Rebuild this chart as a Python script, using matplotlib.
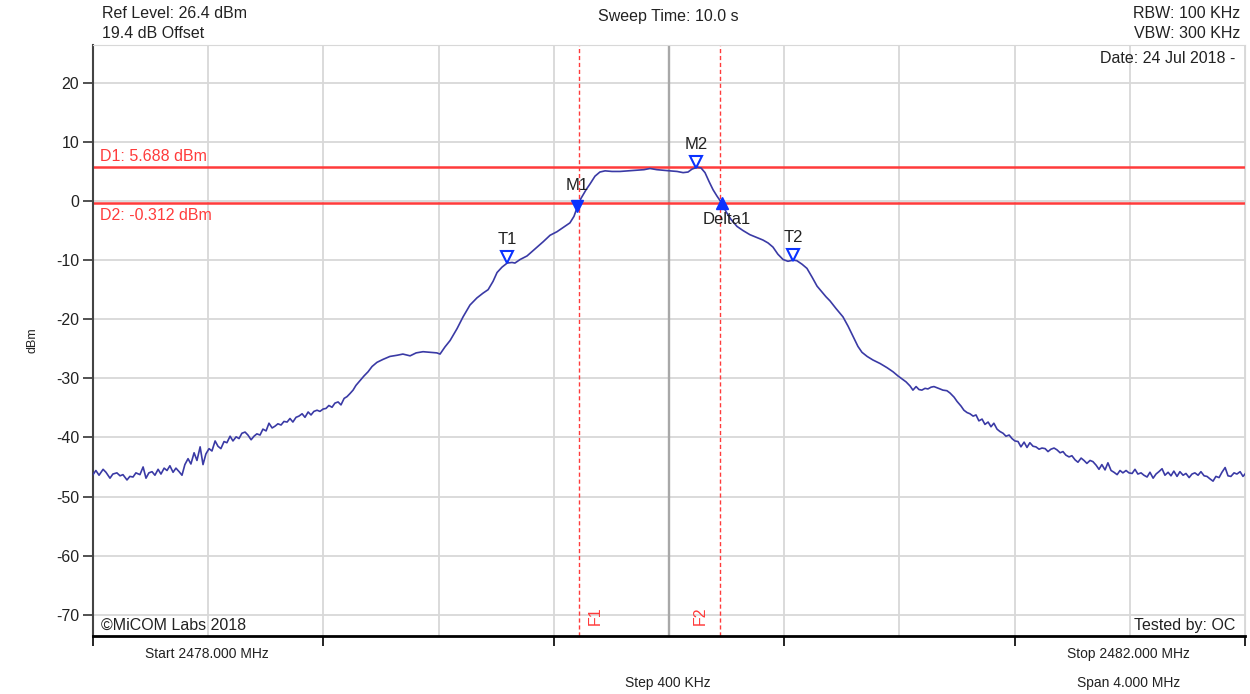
import numpy as np
import matplotlib.pyplot as plt

plt.rcParams['font.family'] = ['Liberation Sans', 'DejaVu Sans']
plt.rcParams['axes.unicode_minus'] = False

# trace: frequency (MHz) and level (dBm)
freq_left = [2478.000, 2478.010, 2478.021, 2478.035, 2478.045, 2478.059, 2478.069, 2478.083,
             2478.094, 2478.104, 2478.118, 2478.128, 2478.139, 2478.149, 2478.163, 2478.174,
             2478.184, 2478.194, 2478.205, 2478.215, 2478.226, 2478.236, 2478.247, 2478.257,
             2478.267, 2478.278, 2478.288, 2478.299, 2478.309, 2478.319, 2478.330, 2478.340,
             2478.351, 2478.361, 2478.372, 2478.382, 2478.392, 2478.403, 2478.413, 2478.424,
             2478.434, 2478.444, 2478.455, 2478.465, 2478.476, 2478.486, 2478.497, 2478.507,
             2478.517, 2478.528, 2478.538, 2478.549, 2478.559, 2478.569, 2478.580, 2478.590,
             2478.601, 2478.611, 2478.622, 2478.632, 2478.642, 2478.653, 2478.663, 2478.674,
             2478.684, 2478.694, 2478.705, 2478.715, 2478.726, 2478.736, 2478.747, 2478.757,
             2478.767, 2478.778, 2478.788, 2478.799, 2478.809, 2478.819, 2478.830, 2478.840,
             2478.851, 2478.861, 2478.872, 2478.882, 2478.892, 2478.903, 2478.913, 2478.927,
             2478.941, 2478.955, 2478.969, 2478.986, 2479.007, 2479.031, 2479.056, 2479.076,
             2479.101, 2479.122, 2479.146, 2479.170, 2479.194, 2479.205]
level_left = [-46.3, -45.6, -46.4, -45.4, -45.9, -46.9, -46.2, -46.0,
              -46.5, -46.3, -47.2, -46.6, -46.7, -46.0, -46.3, -45.0,
              -46.9, -46.0, -45.8, -46.4, -45.4, -46.2, -45.2, -45.6,
              -44.8, -45.9, -45.2, -45.8, -46.4, -44.6, -43.6, -44.5,
              -42.6, -43.9, -41.6, -44.6, -42.8, -41.9, -42.3, -40.6,
              -41.5, -41.9, -40.7, -40.9, -39.8, -40.6, -39.9, -40.2,
              -39.3, -39.1, -39.6, -40.4, -39.8, -39.4, -39.6, -38.6,
              -38.9, -37.6, -38.4, -38.1, -37.7, -37.9, -37.3, -37.4,
              -36.8, -37.4, -36.6, -36.4, -36.0, -36.6, -35.7, -36.2,
              -35.6, -35.4, -35.6, -35.2, -35.1, -34.6, -34.9, -34.2,
              -34.0, -34.5, -33.4, -33.1, -32.6, -32.0, -31.2, -30.4,
              -29.6, -28.9, -28.0, -27.3, -26.8, -26.3, -26.1, -25.9,
              -26.2, -25.7, -25.5, -25.6, -25.7, -25.9]

freq_mid = [2479.222, 2479.240, 2479.264, 2479.285, 2479.309, 2479.333, 2479.354, 2479.372,
            2479.389, 2479.403, 2479.420, 2479.438, 2479.455, 2479.465, 2479.483, 2479.507,
            2479.535, 2479.563, 2479.587, 2479.611, 2479.635, 2479.656, 2479.670, 2479.681,
            2479.694, 2479.712, 2479.726, 2479.743, 2479.760, 2479.778, 2479.802, 2479.830,
            2479.858, 2479.889, 2479.913, 2479.934, 2479.958, 2479.979, 2480.003, 2480.028,
            2480.049, 2480.066, 2480.080, 2480.097, 2480.111, 2480.125, 2480.139, 2480.153,
            2480.167, 2480.184, 2480.198, 2480.215, 2480.236, 2480.257, 2480.281, 2480.306,
            2480.326, 2480.344, 2480.361, 2480.378, 2480.396, 2480.413, 2480.431, 2480.444,
            2480.462, 2480.479, 2480.497, 2480.514, 2480.531, 2480.545, 2480.559, 2480.580,
            2480.604, 2480.622, 2480.639, 2480.656, 2480.670, 2480.688, 2480.708, 2480.733,
            2480.757, 2480.778, 2480.795, 2480.809, 2480.823, 2480.837]
level_mid = [-24.7, -23.6, -21.6, -19.6, -17.6, -16.4, -15.6, -15.0,
             -13.6, -12.1, -11.2, -10.5, -10.4, -10.5, -9.9, -9.3,
             -8.1, -6.9, -5.8, -5.2, -4.4, -3.7, -2.6, -1.1,
             0.4, 1.9, 2.9, 4.2, 4.9, 5.1, 5.0, 5.0,
             5.1, 5.2, 5.3, 5.5, 5.3, 5.2, 5.1, 5.0,
             4.8, 4.9, 5.4, 5.7, 5.6, 4.8, 3.3, 1.9,
             0.8, -0.4, -1.8, -3.1, -4.3, -5.0, -5.7, -6.2,
             -6.6, -7.1, -7.8, -9.0, -9.9, -10.2, -10.0, -10.1,
             -10.7, -11.4, -12.9, -14.4, -15.4, -16.2, -16.9, -18.2,
             -19.6, -21.2, -22.9, -24.6, -25.6, -26.3, -26.9, -27.5,
             -28.2, -28.9, -29.6, -30.1, -30.6, -31.3]

freq_right = [2480.847, 2480.858, 2480.868, 2480.878, 2480.889, 2480.899, 2480.910, 2480.920,
              2480.931, 2480.941, 2480.951, 2480.965, 2480.976, 2480.990, 2481.000, 2481.014,
              2481.024, 2481.035, 2481.045, 2481.056, 2481.066, 2481.076, 2481.087, 2481.097,
              2481.108, 2481.118, 2481.128, 2481.139, 2481.149, 2481.160, 2481.170, 2481.181,
              2481.191, 2481.201, 2481.212, 2481.222, 2481.233, 2481.243, 2481.253, 2481.264,
              2481.274, 2481.285, 2481.295, 2481.306, 2481.316, 2481.326, 2481.337, 2481.347,
              2481.358, 2481.368, 2481.378, 2481.389, 2481.399, 2481.410, 2481.420, 2481.431,
              2481.441, 2481.451, 2481.462, 2481.472, 2481.483, 2481.493, 2481.503, 2481.514,
              2481.524, 2481.535, 2481.545, 2481.556, 2481.566, 2481.576, 2481.587, 2481.597,
              2481.608, 2481.618, 2481.628, 2481.639, 2481.649, 2481.660, 2481.670, 2481.681,
              2481.691, 2481.701, 2481.712, 2481.722, 2481.733, 2481.743, 2481.753, 2481.764,
              2481.774, 2481.785, 2481.795, 2481.806, 2481.816, 2481.826, 2481.837, 2481.847,
              2481.858, 2481.868, 2481.878, 2481.889, 2481.899, 2481.910, 2481.920, 2481.931,
              2481.941, 2481.951, 2481.962, 2481.972, 2481.983, 2481.993, 2482.000]
level_right = [-32.0, -31.4, -31.9, -32.0, -31.7, -31.8, -31.5, -31.4,
               -31.6, -31.8, -32.0, -32.1, -32.5, -33.2, -33.9, -34.7,
               -35.4, -35.8, -36.0, -36.4, -36.2, -37.2, -36.9, -37.8,
               -37.4, -38.2, -37.6, -38.6, -39.0, -39.3, -39.8, -39.6,
               -40.2, -40.6, -40.7, -41.6, -40.8, -41.7, -40.9, -41.5,
               -41.6, -42.0, -41.8, -41.9, -42.4, -42.0, -41.8, -42.1,
               -42.6, -42.4, -43.0, -43.3, -43.1, -43.8, -44.2, -43.5,
               -43.9, -44.4, -43.9, -44.1, -44.7, -45.4, -44.6, -45.5,
               -44.3, -45.6, -45.9, -46.3, -45.6, -46.0, -45.6, -46.0,
               -46.1, -45.4, -46.2, -46.0, -46.4, -46.7, -45.9, -46.9,
               -46.2, -45.8, -45.3, -46.4, -45.9, -46.5, -45.7, -46.6,
               -45.8, -46.4, -46.1, -46.8, -46.2, -46.0, -46.4, -45.8,
               -46.5, -46.6, -47.0, -47.4, -46.6, -46.8, -45.9, -45.1,
               -46.5, -46.6, -46.0, -46.2, -45.8, -46.6, -46.2]

freq = freq_left + freq_mid + freq_right
level = level_left + level_mid + level_right

# markers
m1 = (2479.681, -0.9)
m2 = (2480.094, 5.7)
delta1 = (2480.184, -0.3)
t1 = (2479.438, -10.3)
t2 = (2480.431, -10.1)

d1_level = 5.688
d2_level = -0.312
f1 = 2479.6875
f2 = 2480.177

start_mhz = 2478.0
stop_mhz = 2482.0
ref_level = 26.4

fig = plt.figure(figsize=(12.5, 6.94), dpi=100)
ax = fig.add_axes([0.0744, 0.0836, 0.9216, 0.8516])

ax.set_xlim(start_mhz, stop_mhz)
ax.set_ylim(ref_level - 100, ref_level)

grid_col = '#d8d8d8'
ax.set_xticks(np.arange(start_mhz, stop_mhz + 0.01, 0.8))
ax.set_xticks(np.arange(start_mhz, stop_mhz + 0.01, 0.4), minor=True)
ax.set_yticks(np.arange(-70, 21, 10))
ax.set_xticklabels([])
ax.grid(True, which='both', axis='x', color=grid_col, lw=1.3)
ax.grid(True, which='major', axis='y', color=grid_col, lw=1.3)
ax.set_axisbelow(True)
ax.tick_params(axis='x', which='major', direction='out', length=7, width=1.2, color='black')
ax.tick_params(axis='x', which='minor', length=0)
ax.tick_params(axis='y', direction='out', length=7, width=1.2, color='#333333',
               labelsize=11.5, pad=3)
for t in ax.get_yticklabels():
    t.set_color('#222222')

ax.spines['top'].set_color(grid_col)
ax.spines['right'].set_color(grid_col)
ax.spines['left'].set_color('#444444')
ax.spines['left'].set_linewidth(1.5)
ax.spines['bottom'].set_color('black')
ax.spines['bottom'].set_linewidth(2)

# centre line
ax.axvline((start_mhz + stop_mhz) / 2, color='#a8a8a8', lw=1.7, zorder=1)

# display lines
red = '#ff3b3b'
ax.axhline(d1_level, color=red, lw=1.8, zorder=2)
ax.axhline(d2_level, color=red, lw=1.8, zorder=2)
ax.text(start_mhz + 0.025, d1_level + 0.6, 'D1: %.3f dBm' % d1_level, color=red,
        fontsize=11.5, va='bottom', ha='left')
ax.text(start_mhz + 0.025, d2_level - 0.9, 'D2: %.3f dBm' % d2_level, color=red,
        fontsize=11.5, va='top', ha='left')

# F1 / F2 lines
ax.axvline(f1, color=red, lw=1, ls=(0, (3, 2)), zorder=2)
ax.axvline(f2, color=red, lw=1, ls=(0, (3, 2)), zorder=2)
ax.text(f1 + 0.055, ref_level - 96.6, 'F1', color=red, rotation=90, fontsize=11.5,
        ha='center', va='center')
ax.text(f2 - 0.07, ref_level - 96.6, 'F2', color=red, rotation=90, fontsize=11.5,
        ha='center', va='center')

# trace
ax.plot(freq, level, color='#3a3aa5', lw=1.2, zorder=3)

# markers
blue = '#0a32ff'
ax.plot(*m1, marker='v', ms=9, color=blue, zorder=5)
ax.plot(*delta1, marker='^', ms=9, color=blue, zorder=5)
for mk in (m2, t1, t2):
    ax.plot(mk[0], mk[1] + 0.9, marker='v', ms=8, mfc='white', mec=blue, mew=1.5, zorder=5)
lbl = dict(fontsize=12, color='#222222', ha='center', va='bottom')
ax.text(m1[0], m1[1] + 2.2, 'M1', **lbl)
ax.text(m2[0], m2[1] + 2.6, 'M2', **lbl)
ax.text(t1[0], t1[1] + 2.6, 'T1', **lbl)
ax.text(t2[0], t2[1] + 2.6, 'T2', **lbl)
ax.text(delta1[0] + 0.015, delta1[1] - 1.6, 'Delta1', fontsize=12, color='#222222',
        ha='center', va='top')

# info text inside the plot
ax.text(0.007, 0.005, '\u00a9MiCOM Labs 2018', transform=ax.transAxes, fontsize=11.5,
        color='#222222', ha='left', va='bottom')
ax.text(0.992, 0.005, 'Tested by: OC', transform=ax.transAxes, fontsize=11.5,
        color='#222222', ha='right', va='bottom')
ax.text(0.992, 0.99, 'Date: 24 Jul 2018 -', transform=ax.transAxes, fontsize=11.5,
        color='#222222', ha='right', va='top')

# header
hdr = dict(fontsize=11.5, color='#222222')
fig.text(102 / 1250, 1 - 14 / 694, 'Ref Level: 26.4 dBm', ha='left', va='center', **hdr)
fig.text(102 / 1250, 1 - 33 / 694, '19.4 dB Offset', ha='left', va='center', **hdr)
fig.text(668 / 1250, 1 - 16 / 694, 'Sweep Time: 10.0 s', ha='center', va='center', **hdr)
fig.text(1240 / 1250, 1 - 14 / 694, 'RBW: 100 KHz', ha='right', va='center', **hdr)
fig.text(1240 / 1250, 1 - 33 / 694, 'VBW: 300 KHz', ha='right', va='center', **hdr)

# footer
ftr = dict(fontsize=10, color='#222222', va='center')
fig.text(145 / 1250, 1 - 654 / 694, 'Start 2478.000 MHz', ha='left', **ftr)
fig.text(1190 / 1250, 1 - 654 / 694, 'Stop 2482.000 MHz', ha='right', **ftr)
fig.text(668 / 1250, 1 - 683 / 694, 'Step 400 KHz', ha='center', **ftr)
fig.text(1180 / 1250, 1 - 683 / 694, 'Span 4.000 MHz', ha='right', **ftr)

fig.text(32 / 1250, 1 - 340 / 694, 'dBm', rotation=90, fontsize=9, color='#222222',
         ha='center', va='center')

fig.savefig('out.png', dpi=100)
